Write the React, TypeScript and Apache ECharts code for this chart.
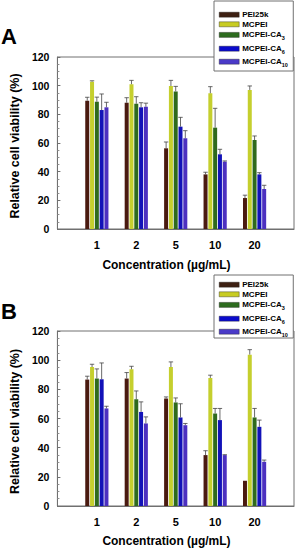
import React, { useEffect, useRef } from "react";
import * as echarts from "echarts";

const categories = ["1", "2", "5", "10", "20"];
const seriesNames = ["PEI25k", "MCPEI", "MCPEI-CA3", "MCPEI-CA6", "MCPEI-CA10"];
const seriesColors = ["#4a1a10", "#c5cf2e", "#2f6a1c", "#1212b8", "#4c30c0"];
const legendColors = ["#3d2012", "#c8cc22", "#2d6b1e", "#0a0acc", "#4a3ac8"];

// Panel A
const aPEI25k = [89.5, 88.1, 56.3, 38.1, 21.6];
const aMCPEI = [102.8, 101.0, 99.8, 94.7, 97.0];
const aCA3 = [88.8, 87.4, 96.0, 70.7, 62.1];
const aCA6 = [83.0, 84.9, 71.4, 52.1, 38.1];
const aCA10 = [84.9, 85.3, 63.3, 47.0, 27.9];
const aPEI25kErr = [2.4, 3.5, 4.4, 1.5, 2.0];
const aMCPEIErr = [0.6, 2.7, 3.9, 4.6, 2.8];
const aCA3Err = [3.2, 4.9, 3.5, 13.5, 2.8];
const aCA6Err = [11.2, 3.2, 6.5, 3.5, 1.2];
const aCA10Err = [3.5, 2.5, 5.3, 0.5, 2.6];

// Panel B
const bPEI25k = [86.7, 87.4, 73.7, 34.9, 17.3];
const bMCPEI = [95.3, 93.8, 95.3, 87.8, 103.8];
const bCA3 = [87.4, 73.2, 71.0, 63.4, 60.7];
const bCA6 = [86.9, 64.5, 60.7, 58.9, 54.3];
const bCA10 = [66.9, 56.6, 55.4, 34.9, 30.3];
const bPEI25kErr = [2.3, 4.1, 1.1, 3.0, 0];
const bMCPEIErr = [1.9, 2.0, 3.5, 1.9, 3.4];
const bCA3Err = [6.6, 5.7, 3.1, 3.5, 6.2];
const bCA6Err = [11.2, 6.9, 9.4, 8.0, 4.6];
const bCA10Err = [1.5, 4.5, 1.2, 0.3, 1.2];

const yTicks = [0, 20, 40, 60, 80, 100, 120];

const legendLabels = [
  "PEI25k",
  "MCPEI",
  "MCPEI-CA{sub|3}",
  "MCPEI-CA{sub|6}",
  "MCPEI-CA{sub|10}",
];

export default function App() {
  const ref = useRef<HTMLDivElement>(null);
  useEffect(() => {
    if (!ref.current) return;
    const chart = echarts.init(ref.current, null, { renderer: "svg" });
    const font = "Liberation Sans, Arial, sans-serif";
    const BW = 4;
    const GAP = 0.8;

    const panels = [
      {
        vals: [aPEI25k, aMCPEI, aCA3, aCA6, aCA10],
        errs: [aPEI25kErr, aMCPEIErr, aCA3Err, aCA6Err, aCA10Err],
        grid: { left: 53, top: 57, width: 241, height: 172 },
        legendTop: 14.7,
        box: { x: 214, y: 1, pad: [34, 36, 35, 37] },
        letter: { text: "A", y: 36 },
        titleY: 265,
      },
      {
        vals: [bPEI25k, bMCPEI, bCA3, bCA6, bCA10],
        errs: [bPEI25kErr, bMCPEIErr, bCA3Err, bCA6Err, bCA10Err],
        grid: { left: 53, top: 331, width: 241, height: 175 },
        legendTop: 284.7,
        box: { x: 214, y: 275, pad: [31, 36, 31, 37] },
        letter: { text: "B", y: 311 },
        titleY: 541,
      },
    ];

    const xCats = ["", ...categories, ""];
    const legendOffsets = [0, 9.6, 20.2, 34, 47];

    const grids: any[] = [];
    const xAxes: any[] = [];
    const yAxes: any[] = [];
    const series: any[] = [];
    const legends: any[] = [];
    const graphics: any[] = [];

    panels.forEach((p, pi) => {
      grids.push({ ...p.grid, show: true, borderColor: "#707070", borderWidth: 1 });
      xAxes.push({
        type: "category",
        gridIndex: pi,
        data: xCats,
        boundaryGap: false,
        axisLine: { lineStyle: { color: "#707070" } },
        axisTick: { show: false },
        axisLabel: { color: "#000", fontWeight: "bold", fontSize: 11, fontFamily: font, margin: 10, interval: 0 },
        splitLine: { show: false },
      });
      yAxes.push({
        type: "value",
        gridIndex: pi,
        min: yTicks[0],
        max: yTicks[yTicks.length - 1],
        interval: 20,
        axisLine: { show: true, lineStyle: { color: "#707070" } },
        axisTick: { show: true, inside: true, length: 3, lineStyle: { color: "#707070" } },
        minorTick: { show: true, splitNumber: 4, length: 2, lineStyle: { color: "#909090" } },
        axisLabel: { color: "#000", fontWeight: "bold", fontSize: 10.5, fontFamily: font, margin: 8 },
        splitLine: { show: false },
        name: "Relative cell viability (%)",
        nameLocation: "middle",
        nameGap: 26,
        nameTextStyle: { color: "#000", fontWeight: "bold", fontSize: 12.5, fontFamily: font, padding: [0, 6, 0, 0] },
      });
      p.vals.forEach((v, si) => {
        series.push({
          type: "bar",
          name: seriesNames[si],
          xAxisIndex: pi,
          yAxisIndex: pi,
          data: [null, ...v, null],
          barWidth: BW,
          barGap: "20%",
          itemStyle: { color: seriesColors[si] },
          z: 2,
        });
      });
      const errData: any[] = [];
      p.vals.forEach((v, si) => {
        v.forEach((val, ci) => {
          errData.push([ci + 1, val, val + p.errs[si][ci], si]);
        });
      });
      series.push({
        type: "custom",
        name: "err" + pi,
        xAxisIndex: pi,
        yAxisIndex: pi,
        data: errData,
        encode: { x: 0, y: 2 },
        z: 3,
        renderItem: (params: any, api: any) => {
          const ci = api.value(0);
          const v = api.value(1);
          const e = api.value(2);
          const si = api.value(3);
          if (e - v <= 0.05) return null;
          const base = api.coord([ci, v]);
          const top = api.coord([ci, e]);
          const x = base[0] + (si - 2) * (BW + GAP);
          const st = { stroke: "#444", lineWidth: 0.8 };
          return {
            type: "group",
            children: [
              { type: "line", shape: { x1: x, y1: base[1], x2: x, y2: top[1] }, style: st },
              { type: "line", shape: { x1: x - 2.2, y1: top[1], x2: x + 2.2, y2: top[1] }, style: st },
            ],
          };
        },
      });
      // legend frame: an empty legend whose background is the box
      legends.push({
        data: [{ name: seriesNames[0], icon: "none", itemStyle: { opacity: 0 } }],
        left: p.box.x,
        top: p.box.y,
        padding: p.box.pad,
        itemWidth: 1,
        itemHeight: 1,
        selectedMode: false,
        backgroundColor: "#ffffff",
        borderColor: "#707070",
        borderWidth: 1,
        borderRadius: 0,
        z: 150,
        formatter: () => " ",
        textStyle: { fontSize: 1, lineHeight: 1, color: "rgba(0,0,0,0)" },
      });
      graphics.push({
        type: "text",
        x: 1,
        y: p.letter.y,
        style: { text: p.letter.text, fontSize: 22, fontWeight: "bold", fontFamily: font, fill: "#000", textVerticalAlign: "middle" },
      });
      graphics.push({
        type: "text",
        x: p.grid.left + p.grid.width / 2 - 7,
        y: p.titleY,
        style: {
          text: "Concentration (µg/mL)",
          fontSize: 12,
          fontWeight: "bold",
          fontFamily: font,
          fill: "#000",
          textAlign: "center",
          textVerticalAlign: "middle",
        },
      });
      seriesNames.forEach((n, si) => {
        legends.push({
          data: [{ name: n, itemStyle: { color: legendColors[si], borderColor: "#222", borderWidth: 0.4 } }],
          left: 219,
          top: p.legendTop + legendOffsets[si] - 6,
          padding: 0,
          itemWidth: 20,
          itemHeight: 5,
          itemGap: 0,
          icon: "rect",
          selectedMode: false,
          z: 200,
          formatter: () => legendLabels[si],
          textStyle: {
            color: "#000",
            fontWeight: "bold",
            fontSize: 8,
            fontFamily: font,
            lineHeight: 12,
            padding: [0, 0, 0, -2],
            rich: {
              sub: { fontSize: 5.5, fontWeight: "bold", fontFamily: font, color: "#000", verticalAlign: "bottom", lineHeight: 12 },
            },
          },
        });
      });
    });

    chart.setOption({
      animation: false,
      backgroundColor: "#fff",
      grid: grids,
      xAxis: xAxes,
      yAxis: yAxes,
      legend: legends,
      series,
      graphic: graphics,
    });
    return () => chart.dispose();
  }, []);
  return (
    <div
      ref={ref}
      style={{ position: "fixed", left: 0, top: 0, width: 299, height: 550 }}
    />
  );
}
